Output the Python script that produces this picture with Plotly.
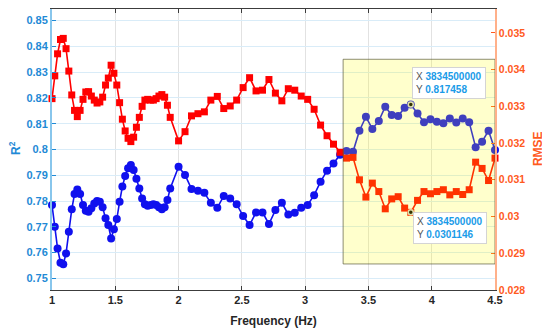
import plotly.graph_objects as go

# ---- data ----
freq = [1.000, 1.022, 1.044, 1.067, 1.089, 1.111, 1.133, 1.156, 1.178, 1.200,
        1.222, 1.245, 1.267, 1.289, 1.311, 1.334, 1.356, 1.378, 1.400, 1.423,
        1.445, 1.467, 1.489, 1.512, 1.534, 1.556, 1.578, 1.601, 1.623, 1.645,
        1.667, 1.690, 1.712, 1.734, 1.756, 1.779, 1.801, 1.823, 1.845, 1.868,
        1.890, 1.912, 1.934,
        2.000, 2.051, 2.102, 2.153, 2.204, 2.255, 2.306, 2.357, 2.408, 2.459,
        2.510, 2.561, 2.612, 2.663, 2.714, 2.765, 2.816, 2.867, 2.918, 2.969,
        3.020, 3.071, 3.122, 3.173, 3.224, 3.276, 3.327, 3.378, 3.429, 3.480,
        3.531, 3.582, 3.633, 3.684, 3.735, 3.786, 3.8345, 3.888, 3.939, 3.990,
        4.041, 4.092, 4.143, 4.194, 4.245, 4.296, 4.347, 4.398, 4.449, 4.500]

r2 = [0.7785, 0.7700, 0.7616, 0.7561, 0.7555, 0.7597, 0.7681, 0.7768, 0.7827, 0.7845,
      0.7827, 0.7785, 0.7762, 0.7759, 0.7772, 0.7791, 0.7800, 0.7797, 0.7776, 0.7733,
      0.7707, 0.7655, 0.7691, 0.7730, 0.7797, 0.7856, 0.7897, 0.7927, 0.7940, 0.7920,
      0.7887, 0.7849, 0.7810, 0.7788, 0.7782, 0.7785, 0.7788, 0.7785, 0.7776, 0.7768,
      0.7776, 0.7804, 0.7849,
      0.7933, 0.7901, 0.7847, 0.7840, 0.7832, 0.7793, 0.7774, 0.7820, 0.7810, 0.7788,
      0.7742, 0.7707, 0.7756, 0.7756, 0.7711, 0.7765, 0.7793, 0.7748, 0.7755, 0.7774,
      0.7785, 0.7823, 0.7875, 0.7918, 0.7946, 0.7980, 0.7994, 0.7991, 0.8073, 0.8127,
      0.8080, 0.8111, 0.8166, 0.8134, 0.8130, 0.8162, 0.817458, 0.8140, 0.8106, 0.8117,
      0.8108, 0.8102, 0.8120, 0.8105, 0.8120, 0.8106, 0.8009, 0.8030, 0.8073, 0.7998]

rmse = [0.03321, 0.03383, 0.03443, 0.03482, 0.03485, 0.03457, 0.03396, 0.03331, 0.03289, 0.03272,
        0.03289, 0.03319, 0.03339, 0.03340, 0.03328, 0.03317, 0.03309, 0.03312, 0.03325, 0.03358,
        0.03377, 0.03412, 0.03390, 0.03358, 0.03310, 0.03265, 0.03233, 0.03213, 0.03204, 0.03216,
        0.03243, 0.03270, 0.03300, 0.03317, 0.03319, 0.03317, 0.03317, 0.03321, 0.03328, 0.03332,
        0.03325, 0.03303, 0.03270,
        0.03206, 0.03231, 0.03274, 0.03280, 0.03285, 0.03317, 0.03327, 0.03294, 0.03301, 0.03317,
        0.03351, 0.03378, 0.03342, 0.03344, 0.03373, 0.03336, 0.03315, 0.03348, 0.03344, 0.03328,
        0.03319, 0.03292, 0.03249, 0.03220, 0.03197, 0.03175, 0.03159, 0.03161, 0.03100, 0.03053,
        0.03091, 0.03068, 0.03021, 0.03048, 0.03054, 0.03023, 0.0301146, 0.03044, 0.03068, 0.03062,
        0.03068, 0.03073, 0.03059, 0.03068, 0.03060, 0.03073, 0.03148, 0.03131, 0.03098, 0.03159]

x_ticks = [1, 1.5, 2, 2.5, 3, 3.5, 4, 4.5]
x_tick_text = ["1", "1.5", "2", "2.5", "3", "3.5", "4", "4.5"]
r2_ticks = [0.75, 0.76, 0.77, 0.78, 0.79, 0.8, 0.81, 0.82, 0.83, 0.84, 0.85]
r2_tick_text = ["0.75", "0.76", "0.77", "0.78", "0.79", "0.8", "0.81", "0.82", "0.83", "0.84", "0.85"]
rmse_ticks = [0.028, 0.029, 0.03, 0.031, 0.032, 0.033, 0.034, 0.035]
rmse_tick_text = ["0.028", "0.029", "0.03", "0.031", "0.032", "0.033", "0.034", "0.035"]

tip_freq = 3.8345
tip_label = "3834500000"
highlight_x = [3.3, 4.5]
highlight_r2 = [0.7556, 0.835]

# ---- styles ----
FONT = "Liberation Sans, Arial, sans-serif"
BLUE_AX = "#1f8ad6"
ORANGE_AX = "#ff5a1e"
BLUE = "#1010ee"
RED = "#ff0000"

fig = go.Figure()
fig.add_trace(go.Scatter(x=freq, y=r2, mode="lines+markers", yaxis="y", cliponaxis=False,
                         line=dict(color=BLUE, width=1.6),
                         marker=dict(symbol="circle", size=8, color=BLUE),
                         showlegend=False))
fig.add_trace(go.Scatter(x=freq, y=rmse, mode="lines+markers", yaxis="y2", cliponaxis=False,
                         line=dict(color=RED, width=1.6),
                         marker=dict(symbol="square", size=7, color=RED),
                         showlegend=False))

i_tip = freq.index(tip_freq)
fig.add_trace(go.Scatter(x=[freq[i_tip]], y=[r2[i_tip]], mode="markers", yaxis="y",
                         marker=dict(size=5, color="black", line=dict(color="#d8d8d8", width=1.5)),
                         showlegend=False))
fig.add_trace(go.Scatter(x=[freq[i_tip]], y=[rmse[i_tip]], mode="markers", yaxis="y2",
                         marker=dict(size=5, color="black", line=dict(color="#d8d8d8", width=1.5)),
                         showlegend=False))

fig.add_shape(type="rect", xref="x", yref="y",
              x0=highlight_x[0], x1=highlight_x[1], y0=highlight_r2[0], y1=highlight_r2[1],
              fillcolor="rgba(255,255,0,0.2)", line=dict(color="rgba(80,80,50,0.65)", width=1),
              layer="above")

def tip_text(xv, yv):
    return ("<span style='color:#555555'>X</span> <b><span style='color:#1a9be8'>%s</span></b><br>"
            "<span style='color:#555555'>Y</span> <b><span style='color:#1a9be8'>%s</span></b>" % (xv, yv))

fig.add_annotation(x=freq[i_tip], y=r2[i_tip], xref="x", yref="y",
                   text=tip_text(tip_label, "%g" % r2[i_tip]), showarrow=False,
                   xanchor="left", yanchor="bottom", xshift=1, yshift=5, align="left",
                   bgcolor="white", bordercolor="#d4d4d4", borderwidth=1, borderpad=3,
                   font=dict(family=FONT, size=10))
fig.add_annotation(x=freq[i_tip], y=rmse[i_tip], xref="x", yref="y2",
                   text=tip_text(tip_label, "%g" % rmse[i_tip]), showarrow=False,
                   xanchor="left", yanchor="top", xshift=2, yshift=0, align="left",
                   bgcolor="white", bordercolor="#d4d4d4", borderwidth=1, borderpad=3,
                   font=dict(family=FONT, size=10))

# axis titles as annotations (exact placement)
fig.add_annotation(x=-0.084, y=0.505, xref="paper", yref="paper", text="<b>R<sup>2</sup></b>",
                   showarrow=False, textangle=-90, xanchor="center", yanchor="middle",
                   font=dict(family=FONT, size=12, color=BLUE_AX))
fig.add_annotation(x=1.097, y=0.505, xref="paper", yref="paper", text="<b>RMSE</b>",
                   showarrow=False, textangle=-90, xanchor="center", yanchor="middle",
                   font=dict(family=FONT, size=12, color=ORANGE_AX))

# the page body adds an 8px margin, so the figure is 8px smaller and shifted
fig.update_layout(
    width=542, height=324,
    margin=dict(l=44, r=55, t=1, b=42),
    paper_bgcolor="white", plot_bgcolor="white",
    font=dict(family=FONT),
    xaxis=dict(range=[1, 4.5], tickvals=x_ticks, ticktext=x_tick_text, automargin=False,
               showgrid=True, gridcolor="#e2e2e2", gridwidth=1,
               showline=True, linecolor="#3c3c3c", linewidth=1, mirror="ticks",
               ticks="inside", ticklen=4, tickcolor="#3c3c3c",
               tickfont=dict(size=11, color="#262626", weight="bold"),
               title=dict(text="Frequency (Hz)", standoff=11,
                          font=dict(size=12, color="#262626", weight="bold")),
               zeroline=False),
    yaxis=dict(range=[0.7455, 0.8545], tickvals=r2_ticks, ticktext=r2_tick_text, automargin=False,
               showgrid=True, gridcolor="#d9ecf8", gridwidth=1,
               showline=True, linecolor="#88c6ec", linewidth=2,
               ticks="inside", ticklen=4, tickcolor=BLUE_AX,
               tickfont=dict(size=11, color=BLUE_AX, weight="bold"),
               zeroline=False),
    yaxis2=dict(range=[0.028, 0.03565], tickvals=rmse_ticks, ticktext=rmse_tick_text, automargin=False,
                overlaying="y", side="right", showgrid=False,
                showline=True, linecolor="#ffb08a", linewidth=1.5,
                ticks="inside", ticklen=4, tickcolor=ORANGE_AX,
                tickfont=dict(size=10.5, color=ORANGE_AX, weight="bold"),
                zeroline=False),
    showlegend=False,
)

fig.write_html("out.html")
